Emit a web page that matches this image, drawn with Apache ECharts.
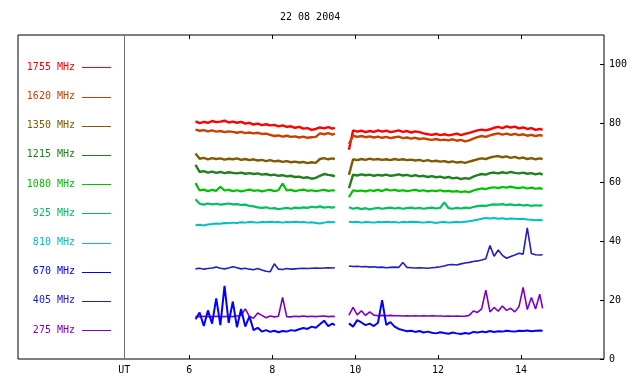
<!DOCTYPE html>
<html><head><meta charset="utf-8">
<script src="https://cdn.jsdelivr.net/npm/echarts@6/dist/echarts.min.js"></script>
<style>html,body{margin:0;padding:0;background:#fff}#c{width:640px;height:384px}</style>
</head><body><div id="c"></div>
<script>
const title = '22 08 2004';
const xTicks = [6, 8, 10, 12, 14];
const utMark = 4.43;
const yTicks = [0, 20, 40, 60, 80, 100];
const T1 = [6.15,6.25,6.35,6.45,6.55,6.65,6.75,6.85,6.95,7.05,7.15,7.25,7.35,7.45,7.55,7.65,7.75,7.85,7.95,8.05,8.15,8.25,8.35,8.45,8.55,8.65,8.75,8.85,8.95,9.05,9.15,9.25,9.35,9.45,9.51];
const T2 = [9.85,9.95,10.05,10.15,10.25,10.35,10.45,10.55,10.65,10.75,10.85,10.95,11.05,11.15,11.25,11.35,11.45,11.55,11.65,11.75,11.85,11.95,12.05,12.15,12.25,12.35,12.45,12.55,12.65,12.75,12.85,12.95,13.05,13.15,13.25,13.35,13.45,13.55,13.65,13.75,13.85,13.95,14.05,14.15,14.25,14.35,14.45,14.52];

const names = ['1755 MHz','1620 MHz','1350 MHz','1215 MHz','1080 MHz','925 MHz','810 MHz','670 MHz','405 MHz','275 MHz'];
const colors = ['#ff0000','#c84000','#805a00','#208020','#00c000','#00c060','#00c0c0','#0000ff','#2020c0','#8000c0'];

const f1755a = [80.7,80.1,80.5,80.2,80.8,80.4,80.6,80.9,80.3,80.6,80.2,80.5,79.9,80.2,79.6,79.9,79.4,79.7,79.3,79.5,79.0,79.3,78.8,79.0,78.5,78.8,78.2,78.4,77.8,78.1,78.6,78.3,78.7,78.2,78.5];
const f1755b = [71.0,77.6,77.2,77.5,77.0,77.4,77.1,77.6,77.2,77.5,77.0,77.3,77.6,77.1,77.4,76.9,77.3,77.0,76.6,76.3,76.1,76.4,76.0,76.3,75.9,76.2,76.5,76.0,76.4,76.8,77.2,77.6,77.9,77.6,78.0,78.5,78.8,78.4,79.0,78.6,78.9,78.3,78.6,78.1,78.4,77.8,78.1,77.8];
const f1620a = [77.9,77.5,77.7,77.3,77.6,77.2,77.4,77.0,77.3,77.1,76.8,77.1,76.7,76.9,76.6,76.8,76.4,76.5,76.1,75.7,75.9,75.5,75.8,75.4,75.6,75.2,75.5,75.1,75.3,75.4,76.6,76.3,76.7,76.2,76.5];
const f1620b = [73.0,75.8,75.4,75.7,75.3,75.6,75.2,75.5,75.1,75.4,75.0,75.3,75.5,75.0,75.2,74.8,75.1,74.7,74.9,74.6,74.4,74.7,74.3,74.5,74.2,74.6,74.1,74.4,73.9,74.2,74.8,75.3,75.7,75.4,75.9,76.3,76.6,76.2,76.5,76.1,76.4,76.0,76.3,75.8,76.1,75.7,76.0,75.8];
const f1350a = [69.8,68.0,68.3,67.8,68.2,67.9,68.1,67.7,68.0,67.8,68.1,67.6,67.9,67.5,67.8,67.4,67.6,67.2,67.5,67.1,67.3,66.9,67.2,66.8,67.0,66.7,66.9,66.5,66.8,66.6,67.9,68.2,67.8,68.1,67.9];
const f1350b = [62.5,67.8,67.5,67.9,67.6,68.0,67.7,67.9,67.6,67.8,67.5,67.9,67.6,67.8,67.5,67.7,67.4,67.6,67.2,67.5,67.1,67.3,67.0,67.2,66.8,67.1,66.7,66.9,66.6,67.0,67.4,67.8,68.1,67.9,68.4,68.7,68.9,68.5,68.8,68.3,68.6,68.1,68.4,67.9,68.2,67.8,68.1,67.9];
const f1215a = [65.9,63.5,63.8,63.3,63.6,63.2,63.5,63.1,63.4,63.2,63.0,63.3,62.9,63.1,62.8,63.0,62.6,62.8,62.4,62.6,62.2,62.4,62.0,62.2,61.8,61.9,61.5,61.7,61.2,61.5,62.2,62.8,62.5,62.3,62.0];
const f1215b = [58.0,62.6,62.3,62.7,62.4,62.6,62.2,62.5,62.3,62.6,62.2,62.4,62.7,62.3,62.5,62.1,62.4,62.0,62.2,61.8,62.1,61.7,61.9,61.5,61.8,61.3,61.6,61.1,61.4,61.2,61.9,62.4,62.8,62.6,63.1,63.3,63.0,63.4,63.1,63.5,63.2,63.0,63.3,62.9,63.1,62.7,63.0,62.6];
const f1080a = [59.7,57.2,57.5,57.0,57.4,57.1,58.5,57.2,57.4,57.0,57.3,56.9,57.2,57.5,57.1,57.3,56.9,57.2,57.4,57.0,57.3,59.6,57.2,57.4,57.0,57.3,57.5,57.1,57.3,57.0,57.2,57.4,57.1,57.3,57.2];
const f1080b = [54.9,57.3,57.0,57.2,56.9,57.3,57.1,57.4,57.0,57.6,57.2,57.4,57.1,57.3,57.0,57.2,57.4,57.1,57.3,56.9,57.2,57.0,57.3,56.9,57.1,56.8,57.0,56.7,56.9,56.6,57.2,57.6,57.9,57.7,58.1,58.3,58.0,58.4,58.2,58.5,58.2,58.0,58.3,57.9,58.2,57.8,58.0,57.7];
const f925a = [54.2,52.7,52.4,52.8,52.5,52.7,52.4,52.6,52.8,52.5,52.6,52.3,52.4,52.0,51.8,51.5,51.3,51.5,51.1,51.2,50.9,51.1,51.3,51.0,51.4,51.2,51.5,51.3,51.7,51.5,51.8,51.4,51.6,51.4,51.6];
const f925b = [51.5,51.0,51.3,50.9,51.2,50.8,51.1,51.3,51.0,51.2,51.4,51.1,51.3,51.0,51.2,51.4,51.1,51.3,51.0,51.2,51.4,51.1,51.3,53.2,51.2,51.0,51.3,51.1,51.4,51.2,51.6,51.9,52.1,52.0,52.3,52.5,52.4,52.6,52.3,52.5,52.2,52.4,52.1,52.3,52.0,52.2,52.1,52.2];
const f810a = [45.4,45.6,45.3,45.7,45.8,46.0,45.9,46.2,46.1,46.3,46.2,46.4,46.3,46.5,46.4,46.3,46.5,46.4,46.6,46.4,46.5,46.3,46.5,46.4,46.6,46.4,46.5,46.3,46.4,46.2,46.0,46.3,46.5,46.4,46.5];
const f810b = [46.6,46.4,46.6,46.3,46.5,46.4,46.3,46.5,46.4,46.6,46.4,46.5,46.3,46.5,46.4,46.6,46.5,46.4,46.3,46.5,46.4,46.2,46.4,46.5,46.3,46.4,46.5,46.4,46.6,46.8,47.0,47.3,47.6,47.9,47.7,47.9,47.6,47.8,47.5,47.7,47.6,47.5,47.6,47.4,47.3,47.1,47.2,47.1];
const f670a = [13.5,15.8,11.2,16.5,12.0,20.6,11.5,24.8,12.3,19.5,10.8,17.0,11.0,14.5,9.8,10.6,9.3,9.8,9.2,9.6,9.1,9.5,9.3,9.8,9.6,10.1,10.5,10.2,11.0,10.6,11.8,13.0,11.2,12.0,11.5];
const f670b = [12.1,11.0,13.2,12.4,11.5,12.0,11.2,12.3,20.0,11.6,12.5,11.0,10.2,9.8,9.4,9.6,9.2,9.5,9.0,9.3,8.9,8.7,9.1,8.8,8.6,9.0,8.7,8.5,8.8,8.6,9.2,9.0,9.3,9.1,9.5,9.2,9.4,9.3,9.6,9.4,9.3,9.6,9.5,9.7,9.4,9.6,9.7,9.6];
const f405a = [30.6,30.8,30.5,30.7,30.9,31.2,30.8,30.6,30.9,31.3,31.0,30.6,30.8,30.5,30.3,30.7,30.2,29.8,29.6,32.3,30.5,30.4,30.7,30.5,30.6,30.7,30.8,30.7,30.8,30.9,30.8,30.9,31.0,30.9,31.0];
const f405b = [31.6,31.4,31.5,31.3,31.4,31.2,31.3,31.1,31.2,31.0,31.1,31.2,31.1,32.8,31.1,31.0,30.9,31.0,30.9,30.8,31.0,31.1,31.3,31.6,32.0,32.1,31.9,32.3,32.6,32.8,33.1,33.3,33.6,34.0,38.5,34.9,37.0,35.2,34.2,34.8,35.3,35.9,35.6,44.5,35.8,35.4,35.3,35.4];
const f275a = [14.4,14.4,14.5,14.4,14.4,14.5,14.4,14.4,14.5,14.4,14.6,14.8,17.0,14.5,13.8,15.6,14.8,14.0,14.6,14.3,14.5,20.9,14.4,14.3,14.5,14.4,14.6,14.4,14.5,14.4,14.5,14.6,14.4,14.5,14.4];
const f275b = [14.9,17.5,15.0,16.4,14.8,16.0,14.9,14.7,14.8,14.7,14.8,14.7,14.7,14.6,14.7,14.6,14.7,14.6,14.7,14.6,14.7,14.6,14.6,14.5,14.6,14.5,14.6,14.5,14.5,14.8,16.3,15.8,17.0,23.4,16.0,17.5,16.2,18.0,16.5,17.2,16.0,17.8,24.3,16.8,20.9,17.0,22.0,17.2];

const segA = [f1755a,f1620a,f1350a,f1215a,f1080a,f925a,f810a,f670a,f405a,f275a];
const segB = [f1755b,f1620b,f1350b,f1215b,f1080b,f925b,f810b,f670b,f405b,f275b];

function build(a, b) {
  const d = T1.map((t, i) => [t, a[i]]);
  d.push([9.68, '-']);
  return d.concat(T2.map((t, i) => [t, b[i]]));
}

const FONT = 'DejaVu Sans Mono';
const G = {left: 18, right: 36, top: 35, bottom: 25};
const drawOrder = [0,1,2,3,4,5,6,9,8,7];
const widths = [2.4,2.4,2.4,2.4,2.2,2.2,2.0,2.0,1.6,1.6];
const series = drawOrder.map((k, j) => ({
  name: names[k], type: 'line', showSymbol: false, symbol: 'none',
  data: build(segA[k], segB[k]),
  lineStyle: {color: colors[k], width: widths[k]}, itemStyle: {color: colors[k]},
  z: 2 + j, silent: true, animation: false,
  markLine: j === 0 ? {silent: true, symbol: 'none', label: {show: false},
    lineStyle: {color: '#707070', type: 'solid', width: 1},
    data: [{xAxis: utMark}]} : undefined
}));

const chart = echarts.init(document.getElementById('c'), null, {renderer: 'canvas'});
const legendTop = 67.3, legendStep = 29.2;
const graphics = [{type: 'text', left: 280, top: 12, style: {text: title, font: '10px ' + FONT, fill: '#000'}}];
names.forEach((n, i) => {
  const y = legendTop + legendStep * i;
  graphics.push({type: 'text', x: 75, y: y, style: {text: n, font: '10px ' + FONT, fill: colors[i], align: 'right', verticalAlign: 'middle'}});
  graphics.push({type: 'line', shape: {x1: 82, y1: Math.round(y) + 0.5, x2: 111, y2: Math.round(y) + 0.5}, style: {stroke: colors[i], lineWidth: 1}});
});

chart.setOption({
  animation: false,
  backgroundColor: '#fff',
  grid: Object.assign({show: true, borderColor: '#000', borderWidth: 1, backgroundColor: 'transparent'}, G),
  xAxis: [{
    type: 'value', min: 1.87, max: 16, position: 'bottom',
    axisLine: {show: false}, splitLine: {show: false},
    axisTick: {show: true, inside: true, length: 4, customValues: xTicks, lineStyle: {color: '#000'}},
    axisLabel: {show: true, customValues: [utMark].concat(xTicks), margin: 6, color: '#000', fontFamily: FONT, fontSize: 10,
      formatter: v => (Math.abs(v - utMark) < 0.01 ? 'UT' : String(v))}
  }, {
    type: 'value', min: 1.87, max: 16, position: 'top',
    axisLine: {show: false}, splitLine: {show: false},
    axisTick: {show: true, inside: true, length: 4, customValues: xTicks, lineStyle: {color: '#000'}},
    axisLabel: {show: false}
  }],
  yAxis: [{
    type: 'value', min: 0, max: 110, interval: 20, position: 'right',
    axisLine: {show: false}, splitLine: {show: false},
    axisTick: {show: true, inside: true, length: 4, lineStyle: {color: '#000'}},
    axisLabel: {show: true, margin: 5, color: '#000', fontFamily: FONT, fontSize: 10, showMaxLabel: false,
      formatter: v => (v > 100 ? '' : String(v))}
  }],
  graphic: graphics,
  series: series
});
</script></body></html>
